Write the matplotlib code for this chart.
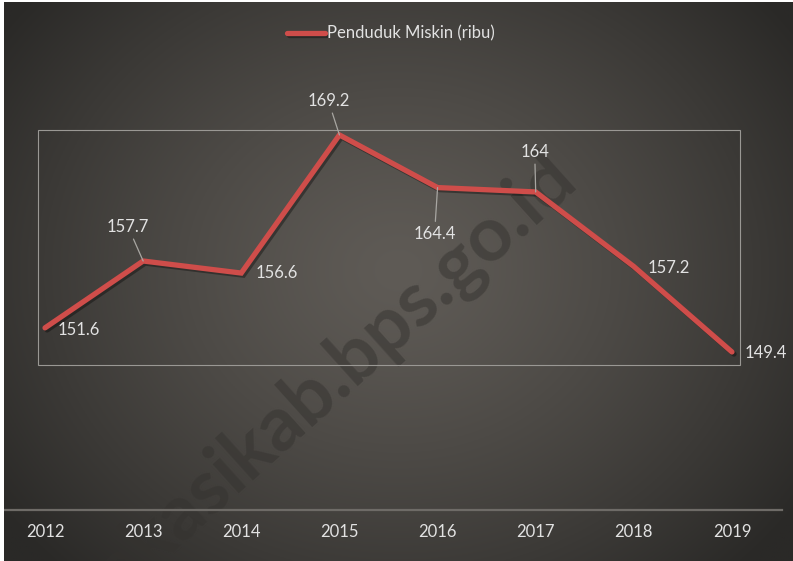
import numpy as np
import matplotlib.pyplot as plt
from matplotlib.patches import Rectangle
import matplotlib.patheffects as pe

plt.rcParams['font.family'] = ['Lato', 'DejaVu Sans']

# data
years = [2012, 2013, 2014, 2015, 2016, 2017, 2018, 2019]
miskin = [151.6, 157.7, 156.6, 169.2, 164.4, 164, 157.2, 149.4]
labels = ['151.6', '157.7', '156.6', '169.2', '164.4', '164', '157.2', '149.4']
series_name = 'Penduduk Miskin (ribu)'

# label offsets in pixels, and whether a leader line is drawn
offsets = [(34, -2), (-15, 34), (35, 0), (-11, 34), (-3, -46), (-1, 40), (35, -2), (34, -1)]
leader = [False, True, False, True, True, True, False, False]

fig = plt.figure(figsize=(7.93, 5.61), dpi=100, facecolor='white')
ax = fig.add_axes([4 / 793, 0, 789 / 793, 559 / 561])
ax.set_xlim(2011.582, 2019.622)
ax.set_ylim(130.33, 181.33)
ax.axis('off')

# radial dark background
gx, gy = np.meshgrid(np.linspace(0, 1, 400), np.linspace(0, 1, 300))
r = np.sqrt(((gx - 0.5) / 0.62) ** 2 + ((gy - 0.52) / 0.75) ** 2)
r = np.clip(r, 0, 1)
c0 = np.array([0x5f, 0x5b, 0x56]) / 255
c1 = np.array([0x2a, 0x29, 0x27]) / 255
t = r[..., None] ** 1.3
img = c0 * (1 - t) + c1 * t
ax.imshow(img, extent=[0, 1, 0, 1], transform=ax.transAxes, aspect='auto',
          zorder=0, origin='lower')

# watermark (runs off the bottom edge like the original)
ax.text(0.40, 0.31, 'bekasikab.bps.go.id', transform=ax.transAxes,
        rotation=42, ha='center', va='center', fontsize=55, fontweight='bold',
        color='#34322f', alpha=0.5, zorder=1, clip_on=True)

# box and axis line
ax.add_patch(Rectangle((2011.93, 148.2), 2019.08 - 2011.93, 169.66 - 148.2,
                       fill=False, edgecolor='#9a9894', lw=0.8, zorder=2))
ax.plot([0.0, 0.986], [135, 135], transform=ax.get_yaxis_transform(),
        color='#6e6b67', lw=1.6, zorder=2)

# main line with a soft shadow
ax.plot(years, miskin, color='#cf4d4a', lw=3.8, solid_capstyle='round',
        solid_joinstyle='miter', zorder=4, label=series_name,
        path_effects=[pe.SimpleLineShadow(offset=(1.5, -1.5), shadow_color='black', alpha=0.35),
                      pe.Normal()])

for x, y, lab, off, ld in zip(years, miskin, labels, offsets, leader):
    ap = dict(arrowstyle='-', color='#a8a6a2', lw=0.9, shrinkA=1, shrinkB=0) if ld else None
    ax.annotate(lab, (x, y), xytext=off, textcoords='offset pixels',
                ha='center', va='center', fontsize=12, color='#e2e2e2',
                arrowprops=ap, zorder=5)

for x in years:
    ax.text(x, 133.0, str(x), ha='center', va='center', fontsize=12, color='#e2e2e2')

leg = ax.legend(loc='center', bbox_to_anchor=(0.49, 0.943), frameon=False,
                fontsize=12, handlelength=2.3, handletextpad=0.1, labelcolor='#e2e2e2')

fig.savefig('out.png', dpi=100, facecolor='white')
